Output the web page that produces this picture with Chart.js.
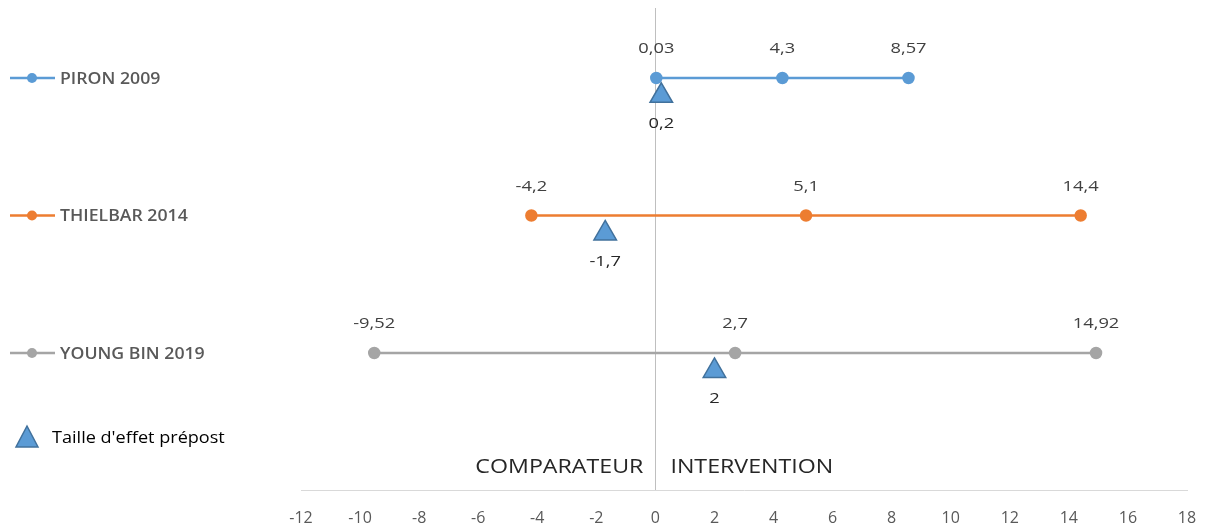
<!DOCTYPE html>
<html>
<head>
<meta charset="utf-8">
<script src="https://cdn.jsdelivr.net/npm/chart.js@4/dist/chart.umd.min.js"></script>
<style>
  html, body { margin: 0; padding: 0; background: #fff; }
  #wrap { position: relative; width: 1207px; height: 532px; }
</style>
</head>
<body>
<div id="wrap"><canvas id="c" width="1207" height="532"></canvas></div>
<script>
// ---- data ----
const studies = ['PIRON 2009', 'THIELBAR 2014', 'YOUNG BIN 2019'];
const studyRows = [1, 2, 3];
const lowValues = [0.03, -4.2, -9.52];
const midValues = [4.3, 5.1, 2.7];
const highValues = [8.57, 14.4, 14.92];
const prepostEffect = [0.2, -1.7, 2];
const prepostLabel = "Taille d'effet prépost";
const xTickValues = [-12, -10, -8, -6, -4, -2, 0, 2, 4, 6, 8, 10, 12, 14, 16, 18];
const sideLabels = ['COMPARATEUR', 'INTERVENTION'];
const studyColors = ['#5B9BD5', '#ED7D31', '#A5A5A5'];

const fmt = v => String(v).replace('.', ',');

const datasets = studies.map((name, i) => ({
  label: name,
  type: 'line',
  data: [lowValues[i], midValues[i], highValues[i]].map(x => ({ x, y: studyRows[i] })),
  borderColor: studyColors[i],
  backgroundColor: studyColors[i],
  borderWidth: 2.5,
  pointRadius: 5,
  pointHoverRadius: 5,
  yAxisID: 'y',
  clip: false,
  order: 2
}));
datasets.push({
  label: prepostLabel,
  type: 'scatter',
  data: prepostEffect.map((x, i) => ({ x, y: studyRows[i] })),
  pointStyle: 'triangle',
  pointRadius: 13,
  pointHoverRadius: 13,
  backgroundColor: '#5B9BD5',
  borderColor: '#41719C',
  borderWidth: 1.5,
  yAxisID: 'y2',
  clip: false,
  order: 1
});

// draw text with a slight horizontal stretch (the reference looks widened)
function txt(ctx, s, x, y, align, font, color, stretch) {
  ctx.save();
  ctx.font = font;
  ctx.fillStyle = color;
  ctx.textBaseline = 'middle';
  ctx.textAlign = 'left';
  const w = ctx.measureText(s).width * stretch;
  let left = x;
  if (align === 'center') left = x - w / 2;
  else if (align === 'right') left = x - w;
  ctx.translate(left, y);
  ctx.scale(stretch, 1);
  ctx.fillText(s, 0, 0);
  ctx.restore();
}

const annot = {
  id: 'annot',
  afterDatasetsDraw(chart) {
    const ctx = chart.ctx;
    const xs = chart.scales.x;
    const ys = chart.scales.y;
    const valFont = '15px "Open Sans"';
    // value labels above circles
    studies.forEach((s, i) => {
      chart.getDatasetMeta(i).data.forEach((pt, j) => {
        const v = chart.data.datasets[i].data[j].x;
        txt(ctx, fmt(v), pt.x, pt.y - 29, 'center', valFont, '#404040', 1.22);
      });
    });
    // triangle labels below
    const tri = chart.getDatasetMeta(studies.length);
    tri.data.forEach((pt, j) => {
      txt(ctx, fmt(prepostEffect[j]), pt.x, pt.y + 28, 'center', valFont, '#262626', 1.22);
    });
    // side labels
    const x0 = xs.getPixelForValue(0);
    txt(ctx, sideLabels[0], x0 - 12, 467, 'right', '20px "Open Sans"', '#262626', 1.16);
    txt(ctx, sideLabels[1], x0 + 15, 467, 'left', '20px "Open Sans"', '#262626', 1.16);
    // legend
    ctx.save();
    studies.forEach((s, i) => {
      const y = ys.getPixelForValue(studyRows[i]);
      ctx.strokeStyle = studyColors[i];
      ctx.lineWidth = 2.5;
      ctx.beginPath();
      ctx.moveTo(10, y);
      ctx.lineTo(55, y);
      ctx.stroke();
      ctx.fillStyle = studyColors[i];
      ctx.beginPath();
      ctx.arc(32, y, 5, 0, Math.PI * 2);
      ctx.fill();
      txt(ctx, s, 60, y + 1, 'left', '600 17px "Open Sans"', '#595959', 1.04);
    });
    // triangle legend
    const ly = 438;
    ctx.fillStyle = '#5B9BD5';
    ctx.strokeStyle = '#41719C';
    ctx.lineWidth = 1.5;
    ctx.beginPath();
    ctx.moveTo(27, ly - 12);
    ctx.lineTo(38, ly + 9);
    ctx.lineTo(16, ly + 9);
    ctx.closePath();
    ctx.fill();
    ctx.stroke();
    ctx.restore();
    txt(ctx, prepostLabel, 52, ly, 'left', '16px "Open Sans"', '#000', 1.13);
  }
};

new Chart(document.getElementById('c'), {
  data: { datasets },
  options: {
    responsive: false,
    animation: false,
    events: [],
    layout: { autoPadding: false, padding: { left: 301, right: 20, top: 8, bottom: 0 } },
    plugins: { legend: { display: false }, tooltip: { enabled: false } },
    scales: {
      x: {
        type: 'linear',
        min: xTickValues[0],
        max: xTickValues[xTickValues.length - 1],
        afterBuildTicks: s => { s.ticks = xTickValues.map(v => ({ value: v })); },
        afterFit: s => { s.height = 42; s.paddingLeft = 0; s.paddingRight = 0; },
        grid: {
          drawTicks: false,
          color: c => (c.tick && c.tick.value === 0) ? '#BFBFBF' : 'rgba(0,0,0,0)',
          lineWidth: 1
        },
        border: { display: true, color: '#D9D9D9', width: 1 },
        ticks: {
          padding: 19,
          color: '#595959',
          font: { family: '"Open Sans"', size: 16 },
          callback: v => fmt(v)
        }
      },
      y: {
        type: 'linear', reverse: true, min: 0.491, max: 3.996, display: false
      },
      y2: {
        type: 'linear', reverse: true, min: 0.491 - 0.13, max: 3.996 - 0.13, display: false
      }
    }
  },
  plugins: [annot]
});
</script>
</body>
</html>
